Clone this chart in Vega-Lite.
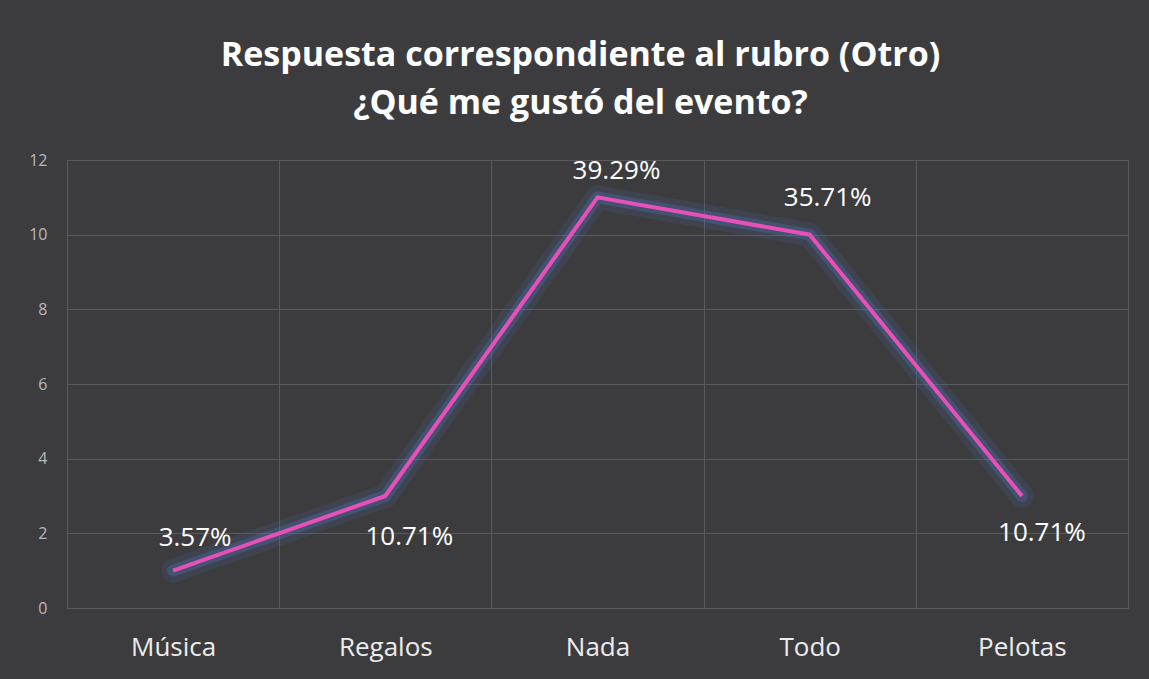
{
  "$schema": "https://vega.github.io/schema/vega-lite/v6.json",
  "autosize": "none",
  "width": 1061,
  "height": 448,
  "padding": {"left": 67, "top": 160, "right": 21, "bottom": 71},
  "background": "#3c3c3f",
  "title": {
    "text": ["Respuesta correspondiente al rubro (Otro)", "¿Qué me gustó del evento?"],
    "anchor": "middle",
    "dx": -17,
    "offset": 31,
    "font": "Open Sans",
    "fontSize": 34,
    "fontWeight": "bold",
    "lineHeight": 48,
    "color": "#ffffff"
  },
  "config": {
    "view": {"stroke": "#66666a", "strokeWidth": 1},
    "axis": {"gridColor": "#5a5a5e", "gridWidth": 1, "domain": false, "ticks": false}
  },
  "data": {
    "values": [
      {"cat": "Música", "val": 1, "label": "3.57%"},
      {"cat": "Regalos", "val": 3, "label": "10.71%"},
      {"cat": "Nada", "val": 11, "label": "39.29%"},
      {"cat": "Todo", "val": 10, "label": "35.71%"},
      {"cat": "Pelotas", "val": 3, "label": "10.71%"}
    ]
  },
  "encoding": {
    "x": {
      "field": "cat", "type": "nominal", "sort": null,
      "scale": {"paddingInner": 0, "paddingOuter": 0},
      "axis": {
        "title": null, "labelAngle": 0, "labelFont": "Open Sans", "labelFontSize": 26,
        "labelFontWeight": 500, "labelColor": "#ececec", "labelPadding": 26, "grid": true, "tickBand": "extent"
      }
    },
    "y": {
      "field": "val", "type": "quantitative",
      "scale": {"domain": [0, 12], "nice": false},
      "axis": {
        "title": null, "values": [0, 2, 4, 6, 8, 10, 12], "labelFont": "Open Sans",
        "labelFontSize": 16, "labelColor": "#b8b8bc", "labelPadding": 20, "grid": true
      }
    }
  },
  "layer": [
    {"mark": {"type": "line", "color": "#4a6aa8", "strokeWidth": 24, "opacity": 0.16, "strokeJoin": "round", "strokeCap": "round"}},
    {"mark": {"type": "line", "color": "#5078b8", "strokeWidth": 12, "opacity": 0.3, "strokeJoin": "round", "strokeCap": "round"}},
    {"mark": {"type": "line", "color": "#e84fb8", "strokeWidth": 4}},
    {
      "transform": [{"filter": "datum.cat === 'Música'"}],
      "mark": {"type": "text", "dx": 22, "dy": -33, "baseline": "middle", "font": "Open Sans", "fontSize": 26, "color": "#ffffff"},
      "encoding": {"text": {"field": "label"}}
    },
    {
      "transform": [{"filter": "datum.cat === 'Regalos'"}],
      "mark": {"type": "text", "dx": 24, "dy": 41, "baseline": "middle", "font": "Open Sans", "fontSize": 26, "color": "#ffffff"},
      "encoding": {"text": {"field": "label"}}
    },
    {
      "transform": [{"filter": "datum.cat === 'Nada'"}],
      "mark": {"type": "text", "dx": 19, "dy": -26, "baseline": "middle", "font": "Open Sans", "fontSize": 26, "color": "#ffffff"},
      "encoding": {"text": {"field": "label"}}
    },
    {
      "transform": [{"filter": "datum.cat === 'Todo'"}],
      "mark": {"type": "text", "dx": 18, "dy": -37, "baseline": "middle", "font": "Open Sans", "fontSize": 26, "color": "#ffffff"},
      "encoding": {"text": {"field": "label"}}
    },
    {
      "transform": [{"filter": "datum.cat === 'Pelotas'"}],
      "mark": {"type": "text", "dx": 20, "dy": 37, "baseline": "middle", "font": "Open Sans", "fontSize": 26, "color": "#ffffff"},
      "encoding": {"text": {"field": "label"}}
    }
  ]
}
